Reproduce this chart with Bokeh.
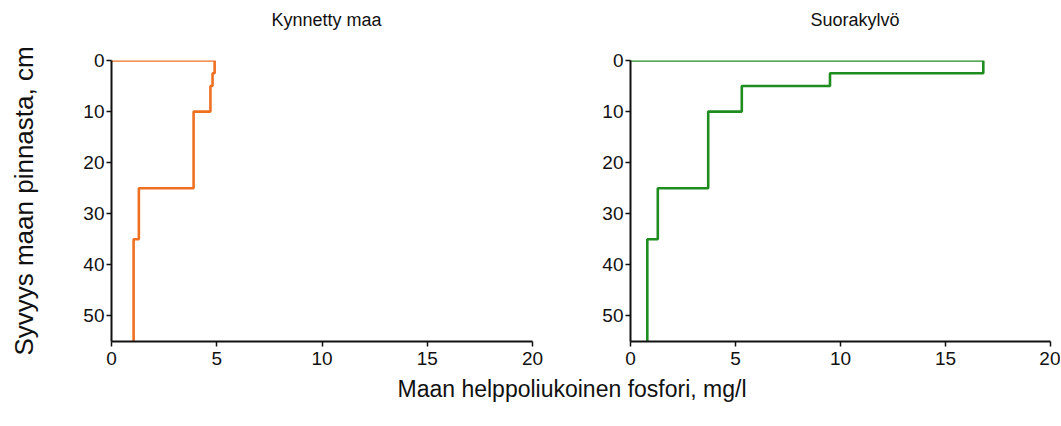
from bokeh.plotting import figure
from bokeh.models import Range1d, FixedTicker, Div
from bokeh.layouts import row, column
from bokeh.embed import file_html
from bokeh.resources import INLINE

# Data
depth_edges = [0, 2.5, 5, 10, 25, 35, 55]
kynnetty = [4.9, 4.8, 4.7, 3.9, 1.3, 1.05]
suorakylvo = [16.8, 9.5, 5.3, 3.7, 1.3, 0.8]
titles = ["Kynnetty maa", "Suorakylvö"]
colors = ["#F07022", "#1E8C1E"]
x_ticks = [0, 5, 10, 15, 20]
y_ticks = [0, 10, 20, 30, 40, 50]
y_label = "Syvyys maan pinnasta, cm"
x_label = "Maan helppoliukoinen fosfori, mg/l"

FONT = "Liberation Sans"


def profile(values):
    xs = [0]
    ys = [depth_edges[0]]
    for i, v in enumerate(values):
        xs += [v, v]
        ys += [depth_edges[i], depth_edges[i + 1]]
    return xs, ys


def make_fig(values, color, width, left, right, ylab):
    p = figure(width=width, height=330, output_backend="svg", toolbar_location=None,
               title=None,
               x_range=Range1d(0, 20), y_range=Range1d(55, 0),
               min_border_left=left, min_border_right=right,
               min_border_top=16, min_border_bottom=33)
    p.outline_line_color = None
    p.grid.visible = False
    xs, ys = profile(values)
    p.line(xs, ys, line_color=color, line_width=2.6)
    for ax in (p.xaxis[0], p.yaxis[0]):
        ax.axis_line_width = 2
        ax.axis_line_color = "#111111"
        ax.major_tick_line_width = 1.5
        ax.major_tick_line_color = "#111111"
        ax.major_tick_out = 5
        ax.major_tick_in = 0
        ax.minor_tick_line_color = None
        ax.major_label_text_font = FONT
        ax.major_label_text_font_size = "19px"
        ax.major_label_text_color = "#111111"
    p.xaxis.ticker = FixedTicker(ticks=x_ticks)
    p.yaxis.ticker = FixedTicker(ticks=y_ticks)
    p.xaxis.major_label_standoff = 5
    p.yaxis.major_label_standoff = 2
    if ylab:
        p.yaxis.axis_label = y_label
        p.yaxis.axis_label_text_font = FONT
        p.yaxis.axis_label_text_font_size = "26px"
        p.yaxis.axis_label_text_font_style = "normal"
        p.yaxis.axis_label_text_color = "#111111"
        p.yaxis.axis_label_standoff = 41
    return p


def title_div(text, width, left, right):
    return Div(text=text, width=width, height=34,
               styles={"font-family": FONT, "font-size": "18px", "color": "#111111",
                       "text-align": "center", "width": f"{width}px",
                       "box-sizing": "border-box",
                       "padding-left": f"{left}px", "padding-right": f"{right}px",
                       "padding-top": "5px", "line-height": "20px"})


p1 = make_fig(kynnetty, colors[0], 575, 111, 43, True)
p2 = make_fig(suorakylvo, colors[1], 485, 55, 10, False)
t1 = title_div(titles[0], 575, 111, 43)
t2 = title_div(titles[1], 485, 55, 10)

xl = Div(text=x_label, width=1052, height=30,
         styles={"font-family": FONT, "font-size": "23px", "color": "#111111",
                 "text-align": "center", "width": "1052px", "padding-left": "82px",
                 "margin-top": "-1px"})

layout = column(row(t1, t2), row(p1, p2), xl)

with open("out.html", "w") as f:
    f.write(file_html(layout, INLINE))
